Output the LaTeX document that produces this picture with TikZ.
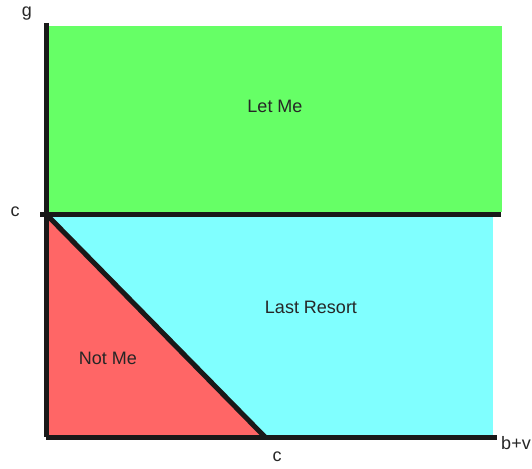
\documentclass[tikz,border=0pt]{standalone}
\usepackage{fontspec}
\setmainfont{Liberation Sans}
\begin{document}
\begin{tikzpicture}[x=1pt,y=-1pt,
  axis/.style={line width=5pt,draw=black!90},
  lbl/.style={font=\fontsize{18}{21}\selectfont,text=black!85}]
\definecolor{lmgreen}{HTML}{66FF66}
\definecolor{lrcyan}{HTML}{80FFFF}
\definecolor{nmred}{HTML}{FF6666}
\useasboundingbox (0,0) rectangle (532,468);
% regions
\fill[lmgreen] (46,26) rectangle (502,212);
\fill[lrcyan] (46,216) rectangle (493,437);
\coordinate (O) at (46,437);
\coordinate (C) at (46,214);
\coordinate (X) at (265,437);
\fill[nmred] (C) -- (X) -- (O) -- cycle;
% lines
\coordinate (Ytop) at (46,23);
\coordinate (Xend) at (497,437);
\coordinate (Cl) at (40,214);
\coordinate (Cr) at (501,214);
\draw[axis] (Cl) -- (Cr);
\draw[axis] (C) -- (X);
\draw[axis] (Ytop) -- (O);
\draw[axis] (O) -- (Xend);
% labels
\node[lbl] (g) at (27,14) {g};
\node[lbl] (cy) at (15,212) {c};
\node[lbl] (cx) at (277,457) {c};
\node[lbl] (bv) at (516,443) {b+v};
\node[lbl] (letme) at (275,106) {Let Me};
\node[lbl] (last) at (311,307) {Last Resort};
\node[lbl] (notme) at (108,358) {Not Me};
\end{tikzpicture}
\end{document}
